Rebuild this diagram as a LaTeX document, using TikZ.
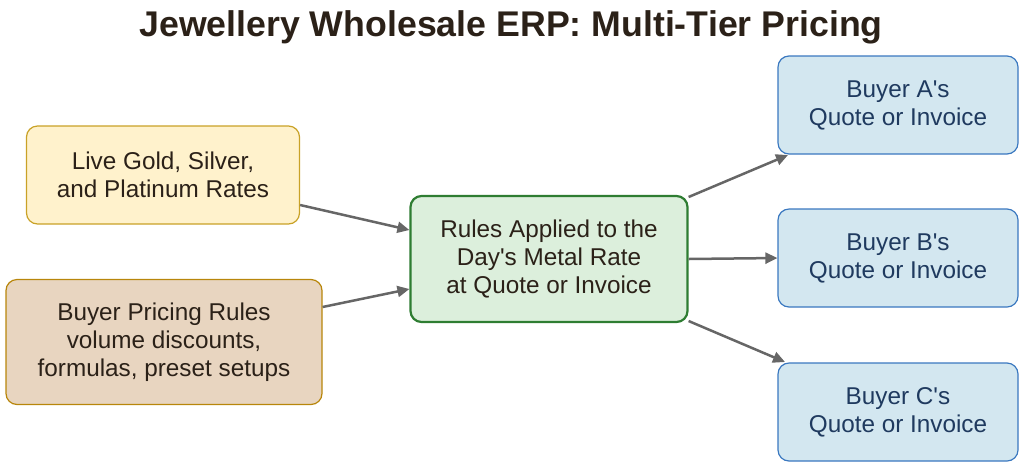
\documentclass[tikz,border=0pt]{standalone}
\usepackage{fontspec}
\setmainfont{Liberation Sans}
\usetikzlibrary{arrows.meta}
\definecolor{tcol}{HTML}{2B2118}
\definecolor{bluet}{HTML}{1F3A5F}
\newcommand{\q}{\textquotesingle}
\begin{document}
\begin{tikzpicture}[x=1pt,y=-1pt,
 box/.style={draw,rounded corners=11pt,line width=1.2pt,align=center,inner sep=0pt,font=\fontsize{24.3}{28}\selectfont},
 arr/.style={draw=black!60,line width=2.5pt,-{Triangle[length=12pt,width=11pt]}}]
\useasboundingbox (0,0) rectangle (1024,467);
\node[font=\bfseries\fontsize{35.7}{40}\selectfont,text=tcol] (title) at (511,27) {Jewellery Wholesale ERP: Multi-Tier Pricing};
\node[box,fill={rgb,255:red,255;green,242;blue,204},draw={rgb,255:red,201;green,162;blue,39},text=tcol,minimum width=273pt,minimum height=98pt] (gold) at (163,175) {Live Gold, Silver,\\and Platinum Rates};
\node[box,fill={rgb,255:red,232;green,213;blue,192},draw={rgb,255:red,184;green,134;blue,11},text=tcol,minimum width=316pt,minimum height=125pt] (rules) at (164,342) {Buyer Pricing Rules\\volume discounts,\\formulas, preset setups};
\node[box,fill={rgb,255:red,220;green,239;blue,220},draw={rgb,255:red,46;green,125;blue,50},line width=2.2pt,text=tcol,minimum width=277pt,minimum height=126pt] (c) at (549,259) {Rules Applied to the\\Day\q s Metal Rate\\at Quote or Invoice};
\foreach \n/\l/\y in {a/A/105,b/B/258,cc/C/412}
 \node[box,fill={rgb,255:red,211;green,231;blue,240},draw={rgb,255:red,58;green,120;blue,192},text=bluet,minimum width=240pt,minimum height=98pt] (\n) at (898,\y) {Buyer \l\q s\\Quote or Invoice};
\draw[arr] (gold.east |- 0,205) -- (c.west |- 0,230);
\draw[arr] (rules.east |- 0,307) -- (c.west |- 0,289);
\draw[arr] (c.east |- 0,197) -- (788,155);
\draw[arr] (c.east) -- (b.west);
\draw[arr] (c.east |- 0,321) -- (785,362);
\end{tikzpicture}
\end{document}
